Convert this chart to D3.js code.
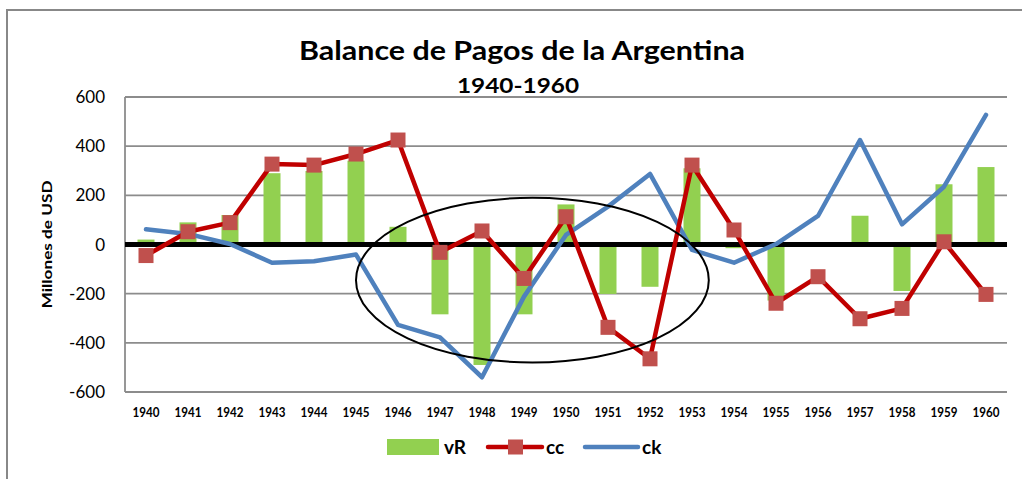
<!DOCTYPE html>
<html>
<head>
<meta charset="utf-8">
<script src="https://cdn.jsdelivr.net/npm/d3@7"></script>
<style>
  body { margin: 0; background: #fff; }
  svg text { font-family: Lato, "Open Sans", sans-serif; font-weight: bold; fill: #000; }
</style>
</head>
<body>
<svg id="chart" width="1022" height="479"></svg>
<script>
// data (millones de USD)
const years = [1940,1941,1942,1943,1944,1945,1946,1947,1948,1949,1950,1951,1952,1953,1954,1955,1956,1957,1958,1959,1960];
const vR = [20, 90, 120, 290, 299, 341, 72, -284, -490, -284, 163, -201, -172, 310, -15, -228, 0, 117, -189, 245, 315];
const cc = [-45, 52, 89, 327, 323, 368, 425, -32, 55, -138, 113, -337, -465, 323, 59, -239, -131, -302, -260, 11, -203];
const ck = [62, 43, 2, -74, -68, -41, -327, -378, -540, -212, 39, 154, 287, -22, -74, 2, 116, 425, 82, 235, 527];
const yTicks = [-600, -400, -200, 0, 200, 400, 600];

const svg = d3.select("#chart");
const plotL = 125, plotR = 1007, plotT = 97, plotB = 392;

// outer chart frame
svg.append("rect")
    .attr("x", 7).attr("y", 10)
    .attr("width", 1030).attr("height", 480)
    .attr("fill", "none")
    .attr("stroke", "#888").attr("stroke-width", 2);

const xb = d3.scaleBand().domain(years).range([plotL, plotR]);
const xm = d => xb(d) + xb.bandwidth() / 2;
const y = d3.scaleLinear().domain([-600, 600]).range([plotB, plotT]);

// gridlines
svg.append("g")
    .selectAll("line")
    .data(yTicks)
    .enter().append("line")
    .attr("x1", plotL).attr("x2", plotR)
    .attr("y1", d => y(d)).attr("y2", d => y(d))
    .attr("stroke", "#8c8c8c").attr("stroke-width", 1.8);

// plot area left edge
svg.append("line")
    .attr("x1", plotL).attr("x2", plotL)
    .attr("y1", plotT).attr("y2", plotB)
    .attr("stroke", "#8c8c8c").attr("stroke-width", 1.8);

// y tick labels
svg.append("g")
    .selectAll("text")
    .data(yTicks)
    .enter().append("text")
    .attr("x", 105)
    .attr("y", d => y(d) + 6)
    .attr("text-anchor", "end")
    .style("font-size", "17px")
    .style("font-weight", "normal")
    .text(d => d);

// y axis title
svg.append("text")
    .attr("transform", `translate(52,${y(0)}) rotate(-90)`)
    .attr("text-anchor", "middle")
    .attr("textLength", 128)
    .attr("lengthAdjust", "spacingAndGlyphs")
    .style("font-size", "14px")
    .text("Millones de USD");

// year labels
svg.append("g")
    .selectAll("text")
    .data(years)
    .enter().append("text")
    .attr("x", d => xm(d))
    .attr("y", 417)
    .attr("text-anchor", "middle")
    .attr("textLength", 27)
    .attr("lengthAdjust", "spacingAndGlyphs")
    .style("font-size", "12.5px")
    .text(d => d);

// bars
svg.append("g")
    .selectAll("rect")
    .data(years.map((yr, i) => ({ yr, v: vR[i] })))
    .enter().append("rect")
    .attr("x", d => xm(d.yr) - 8.5)
    .attr("width", 17)
    .attr("y", d => y(Math.max(0, d.v)))
    .attr("height", d => Math.abs(y(d.v) - y(0)))
    .attr("fill", "#92D050");

// zero line
svg.append("line")
    .attr("x1", plotL).attr("x2", plotR)
    .attr("y1", y(0)).attr("y2", y(0))
    .attr("stroke", "#000").attr("stroke-width", 5);

// ck line
const line = d3.line().x((d, i) => xm(years[i])).y(d => y(d));
svg.append("path")
    .datum(ck)
    .attr("d", line)
    .attr("fill", "none")
    .attr("stroke", "#4F81BD").attr("stroke-width", 4.5)
    .attr("stroke-linejoin", "round").attr("stroke-linecap", "round");

// cc line + markers
svg.append("path")
    .datum(cc)
    .attr("d", line)
    .attr("fill", "none")
    .attr("stroke", "#C00000").attr("stroke-width", 4.5)
    .attr("stroke-linejoin", "round");

svg.append("g")
    .selectAll("rect")
    .data(cc)
    .enter().append("rect")
    .attr("x", (d, i) => xm(years[i]) - 7.5)
    .attr("y", d => y(d) - 7.5)
    .attr("width", 15).attr("height", 15)
    .attr("fill", "#C0504D");

// annotation ellipse around 1947-1953
svg.append("ellipse")
    .attr("cx", xm(1949) + xb.bandwidth() * 0.2)
    .attr("cy", y(-145))
    .attr("rx", xb.bandwidth() * 4.2)
    .attr("ry", y(-600) - y(-265))
    .attr("fill", "none")
    .attr("stroke", "#000").attr("stroke-width", 2);

// titles
svg.append("text")
    .attr("x", 522).attr("y", 60)
    .attr("text-anchor", "middle")
    .attr("textLength", 446)
    .attr("lengthAdjust", "spacingAndGlyphs")
    .style("font-size", "27px")
    .text("Balance de Pagos de la Argentina");
svg.append("text")
    .attr("x", 518).attr("y", 93)
    .attr("text-anchor", "middle")
    .attr("textLength", 122)
    .attr("lengthAdjust", "spacingAndGlyphs")
    .style("font-size", "21px")
    .text("1940-1960");

// legend
const lg = svg.append("g").attr("transform", "translate(0,447)");
lg.append("rect").attr("x", 387).attr("y", -8).attr("width", 52).attr("height", 16).attr("fill", "#92D050");
lg.append("text").attr("x", 444).attr("y", 7).style("font-size", "19px").text("vR");
lg.append("line").attr("x1", 488).attr("x2", 542).attr("y1", 0).attr("y2", 0)
    .attr("stroke", "#C00000").attr("stroke-width", 4.5).attr("stroke-linecap", "round");
lg.append("rect").attr("x", 508).attr("y", -7.5).attr("width", 15).attr("height", 15).attr("fill", "#C0504D");
lg.append("text").attr("x", 546).attr("y", 7).style("font-size", "19px").text("cc");
lg.append("line").attr("x1", 585).attr("x2", 638).attr("y1", 0).attr("y2", 0)
    .attr("stroke", "#4F81BD").attr("stroke-width", 4.5).attr("stroke-linecap", "round");
lg.append("text").attr("x", 642).attr("y", 7).style("font-size", "19px").text("ck");
</script>
</body>
</html>
